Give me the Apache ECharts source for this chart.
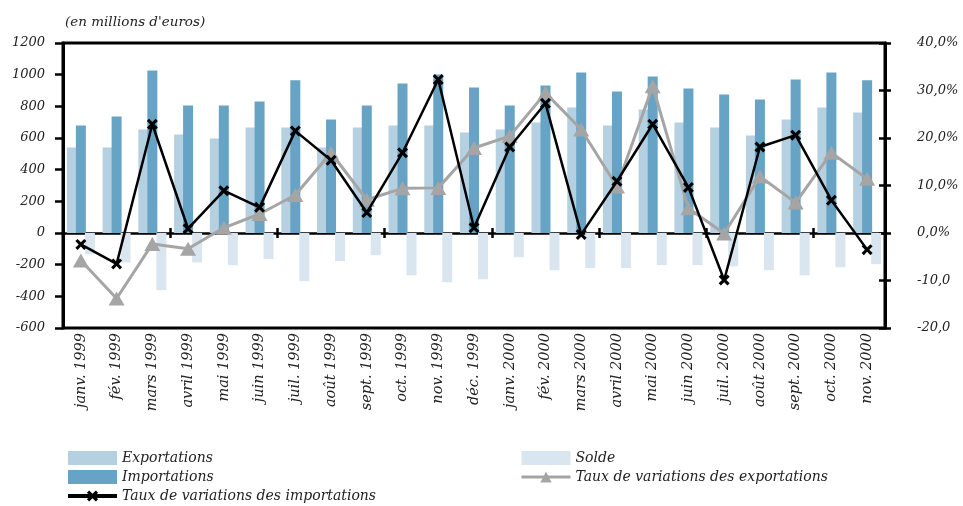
<!DOCTYPE html>
<html>
<head>
<meta charset="utf-8">
<script src="https://cdn.jsdelivr.net/npm/echarts@6/dist/echarts.min.js"></script>
<style>
  html, body { margin: 0; padding: 0; background: #fff; }
  #main { width: 963px; height: 506px; }
</style>
</head>
<body>
<div id="main"></div>
<script>
const months = [
  "janv. 1999", "fév. 1999", "mars 1999", "avril 1999", "mai 1999", "juin 1999",
  "juil. 1999", "août 1999", "sept. 1999", "oct. 1999", "nov. 1999", "déc. 1999",
  "janv. 2000", "fév. 2000", "mars 2000", "avril 2000", "mai 2000", "juin 2000",
  "juil. 2000", "août 2000", "sept. 2000", "oct. 2000", "nov. 2000"
];
const exportations = [540, 540, 654, 622, 597, 666, 666, 540, 666, 679, 679, 635,
  654, 698, 793, 679, 780, 698, 666, 616, 717, 793, 761];
const importations = [679, 736, 1026, 805, 805, 830, 964, 717, 805, 944, 1001, 919,
  805, 932, 1014, 894, 989, 913, 875, 843, 970, 1014, 964];
const solde = [-134, -186, -361, -186, -203, -165, -304, -178, -140, -267, -311, -292,
  -153, -235, -222, -222, -203, -203, -210, -235, -267, -216, -197];
const tauxImportations = [-2.4, -6.5, 22.9, 0.9, 8.9, 5.4, 21.5, 15.3, 4.3, 16.9, 32.3, 1.1,
  18.1, 27.3, -0.3, 10.9, 22.9, 9.6, -9.9, 18.1, 20.6, 6.9, -3.5];
const tauxExportations = [-5.8, -13.8, -2.3, -3.3, 1.1, 4.0, 8.0, 16.9, 7.0, 9.4, 9.5, 17.9,
  20.4, 29.5, 21.8, 9.8, 30.9, 5.2, -0.1, 11.9, 6.4, 16.9, 11.4];
const rightTickValues = [-20, -10, 0, 10, 20, 30, 40];
const rightTickLabels = ["-20,0", "-10,0", "0,0%", "10,0%", "20,0%", "30,0%", "40,0%"];

const font = "DejaVu Serif";
const txt = { fontFamily: font, fontStyle: "italic", fontSize: 13, color: "#222" };
const crossPath = "path://M0,2 L2,0 L5,3 L8,0 L10,2 L7,5 L10,8 L8,10 L5,7 L2,10 L0,8 L3,5 Z";

const chart = echarts.init(document.getElementById("main"));
chart.setOption({
  animation: false,
  title: {
    text: "(en millions d'euros)",
    left: 60, top: 10,
    textStyle: Object.assign({}, txt, { fontWeight: "normal", fontSize: 13.5 })
  },
  legend: [
    {
      orient: "vertical", left: 66, top: 451, padding: 0, height: 60,
      itemWidth: 49, itemHeight: 14, itemGap: 5,
      textStyle: Object.assign({}, txt, { fontSize: 14 }),
      data: [
        { name: "Exportations", icon: "rect" },
        { name: "Importations", icon: "rect" },
        { name: "Taux de variations des importations", lineStyle: { width: 4 } }
      ]
    },
    {
      orient: "vertical", left: 520, top: 451, padding: 0, height: 60,
      itemWidth: 49, itemHeight: 14, itemGap: 5,
      textStyle: Object.assign({}, txt, { fontSize: 14 }),
      data: [
        { name: "Solde", icon: "rect" },
        { name: "Taux de variations des exportations", lineStyle: { width: 3 } }
      ]
    }
  ],
  grid: {
    left: 63, right: 78, top: 43, bottom: 178,
    show: true, borderColor: "#000", borderWidth: 3, backgroundColor: "transparent"
  },
  xAxis: [
    {
      type: "category", data: months, position: "bottom",
      axisLine: { show: false, onZero: false },
      axisTick: { show: false },
      axisLabel: Object.assign({}, txt, { fontSize: 14.5, rotate: 90, margin: 5, interval: 0 })
    },
    {
      type: "category", data: months, position: "bottom",
      axisLine: { onZero: true, lineStyle: { color: "#000", width: 2.5 } },
      axisTick: { show: true, length: 5, lineStyle: { color: "#000", width: 2.5 } },
      axisLabel: { show: false }
    },
    {
      type: "category", data: months, position: "bottom",
      axisLine: { show: false, onZero: true },
      axisTick: { show: true, inside: true, length: 5, lineStyle: { color: "#000", width: 2.5 } },
      axisLabel: { show: false }
    }
  ],
  yAxis: [
    {
      type: "value", position: "left", min: -600, max: 1200, interval: 200,
      axisLine: { show: true, lineStyle: { color: "#000", width: 3 } },
      axisTick: { show: true, length: 8, lineStyle: { color: "#000", width: 2.5 } },
      axisLabel: Object.assign({}, txt, { margin: 18, formatter: (v) => String(v) }),
      splitLine: { show: false }
    },
    {
      type: "value", position: "right", min: -20, max: 40, interval: 10,
      axisLine: { show: true, lineStyle: { color: "#000", width: 3 } },
      axisTick: { show: true, length: 6, lineStyle: { color: "#000", width: 2.5 } },
      axisLabel: Object.assign({}, txt, {
        margin: 32,
        formatter: (v) => rightTickLabels[rightTickValues.indexOf(v)]
      }),
      splitLine: { show: false }
    },
    {
      type: "value", position: "right", min: -20, max: 40, interval: 10,
      axisLine: { show: false },
      axisTick: { show: true, inside: true, length: 6, lineStyle: { color: "#000", width: 2.5 } },
      axisLabel: { show: false },
      splitLine: { show: false }
    }
  ],
  series: [
    {
      name: "Exportations", type: "bar", data: exportations,
      barWidth: 10, barGap: "-10%",
      itemStyle: { color: "#b5d0e1" }
    },
    {
      name: "Importations", type: "bar", data: importations,
      barWidth: 10, barGap: "-10%",
      itemStyle: { color: "#67a3c4" }
    },
    {
      name: "Solde", type: "bar", data: solde,
      barWidth: 10, barGap: "-10%",
      itemStyle: { color: "#dae6ef" }
    },
    {
      name: "Taux de variations des importations", type: "line", yAxisIndex: 1,
      data: tauxImportations, z: 4,
      symbol: crossPath, symbolSize: 11,
      lineStyle: { color: "#000", width: 2.5 },
      itemStyle: { color: "#000" }
    },
    {
      name: "Taux de variations des exportations", type: "line", yAxisIndex: 1,
      data: tauxExportations, z: 3,
      symbol: "triangle", symbolSize: [16, 14],
      lineStyle: { color: "#a5a5a5", width: 3 },
      itemStyle: { color: "#a5a5a5" }
    }
  ]
});
</script>
</body>
</html>
